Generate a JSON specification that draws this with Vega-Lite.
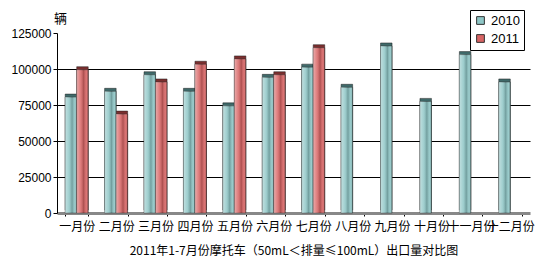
{
  "$schema": "https://vega.github.io/schema/vega-lite/v6.json",
  "width": 473,
  "height": 180,
  "autosize": {"type": "none"},
  "padding": {"left": 57, "top": 33, "right": 20, "bottom": 56},
  "background": "white",
  "config": {"view": {"stroke": null}, "font": "Liberation Sans"},
  "data": {
    "values": [
      {"month": "一月份", "year": "2010", "value": 80500},
      {"month": "一月份", "year": "2011", "value": 99500},
      {"month": "二月份", "year": "2010", "value": 84500},
      {"month": "二月份", "year": "2011", "value": 68700},
      {"month": "三月份", "year": "2010", "value": 96000},
      {"month": "三月份", "year": "2011", "value": 91000},
      {"month": "四月份", "year": "2010", "value": 84500},
      {"month": "四月份", "year": "2011", "value": 103300},
      {"month": "五月份", "year": "2010", "value": 74400},
      {"month": "五月份", "year": "2011", "value": 107000},
      {"month": "六月份", "year": "2010", "value": 94200},
      {"month": "六月份", "year": "2011", "value": 96000},
      {"month": "七月份", "year": "2010", "value": 101300},
      {"month": "七月份", "year": "2011", "value": 114800},
      {"month": "八月份", "year": "2010", "value": 87300},
      {"month": "九月份", "year": "2010", "value": 116000},
      {"month": "十月份", "year": "2010", "value": 77500},
      {"month": "十一月份", "year": "2010", "value": 110000},
      {"month": "十二月份", "year": "2010", "value": 91000}
    ]
  },
  "encoding": {
    "x": {
      "field": "month",
      "type": "nominal",
      "sort": null,
      "scale": {"paddingInner": 0.416, "paddingOuter": 0.208},
      "axis": {
        "labelAngle": 0,
        "labelFont": "Noto Sans CJK SC",
        "labelFontSize": 12,
        "labelColor": "black",
        "labelPadding": 5,
        "labelOverlap": false,
        "tickBand": "extent",
        "tickSize": 3,
        "tickColor": "black",
        "domainColor": "#888888",
        "domainWidth": 3,
        "title": "2011年1-7月份摩托车（50mL＜排量≤100mL）出口量对比图",
        "titleFont": "Noto Sans CJK SC",
        "titleFontSize": 12,
        "titleFontWeight": "normal",
        "titleColor": "black",
        "titlePadding": 13
      }
    },
    "xOffset": {"field": "year", "type": "nominal", "scale": {"paddingInner": 0, "paddingOuter": 0}},
    "y": {
      "field": "value",
      "type": "quantitative",
      "scale": {"domain": [0, 125000], "nice": false},
      "axis": {
        "values": [0, 25000, 50000, 75000, 100000, 125000],
        "format": "d",
        "labelFontSize": 12,
        "labelColor": "black",
        "labelPadding": 2,
        "tickSize": 4,
        "tickColor": "black",
        "domainColor": "black",
        "grid": true,
        "gridColor": {"condition": {"test": "datum.value >= 125000 || datum.value <= 0", "value": "transparent"}, "value": "black"},
        "gridWidth": 1,
        "title": "辆",
        "titleAngle": 0,
        "titleAlign": "center",
        "titleBaseline": "alphabetic",
        "titleX": 3,
        "titleY": -11,
        "titleFont": "Noto Sans CJK SC",
        "titleFontSize": 13,
        "titleFontWeight": "normal",
        "titleColor": "black"
      }
    }
  },
  "layer": [
    {
      "mark": {"type": "bar", "xOffset": 3, "yOffset": -3, "stroke": "#202020", "strokeWidth": 0.5},
      "encoding": {
        "fill": {"condition": {"test": "datum.year == '2010'", "value": "#3f6a6a"}, "value": "#7a2e2e"}
      }
    },
    {
      "mark": {"type": "bar", "stroke": "#303030", "strokeWidth": 0.5},
      "encoding": {
        "color": {
          "field": "year",
          "type": "nominal",
          "scale": {"domain": ["2010", "2011"], "range": ["#8ec6c6", "#d86464"]},
          "legend": {
            "orient": "none",
            "legendX": 413,
            "legendY": -23,
            "title": null,
            "fillColor": "white",
            "strokeColor": "black",
            "padding": 4,
            "symbolType": "square",
            "symbolSize": 60,
            "symbolStrokeColor": "#303030",
            "symbolStrokeWidth": 1,
            "labelFont": "Liberation Sans",
            "labelFontSize": 13,
            "labelColor": "black",
            "rowPadding": 4
          }
        }
      }
    },
    {
      "mark": {
        "type": "bar",
        "fill": {
          "x1": 0, "y1": 0, "x2": 1, "y2": 0,
          "gradient": "linear",
          "stops": [
            {"offset": 0, "color": "rgba(255,255,255,0.45)"},
            {"offset": 0.35, "color": "rgba(255,255,255,0.15)"},
            {"offset": 0.6, "color": "rgba(0,0,0,0.2)"},
            {"offset": 0.85, "color": "rgba(255,255,255,0.1)"},
            {"offset": 1, "color": "rgba(0,0,0,0.3)"}
          ]
        }
      },
      "encoding": {}
    }
  ]
}
